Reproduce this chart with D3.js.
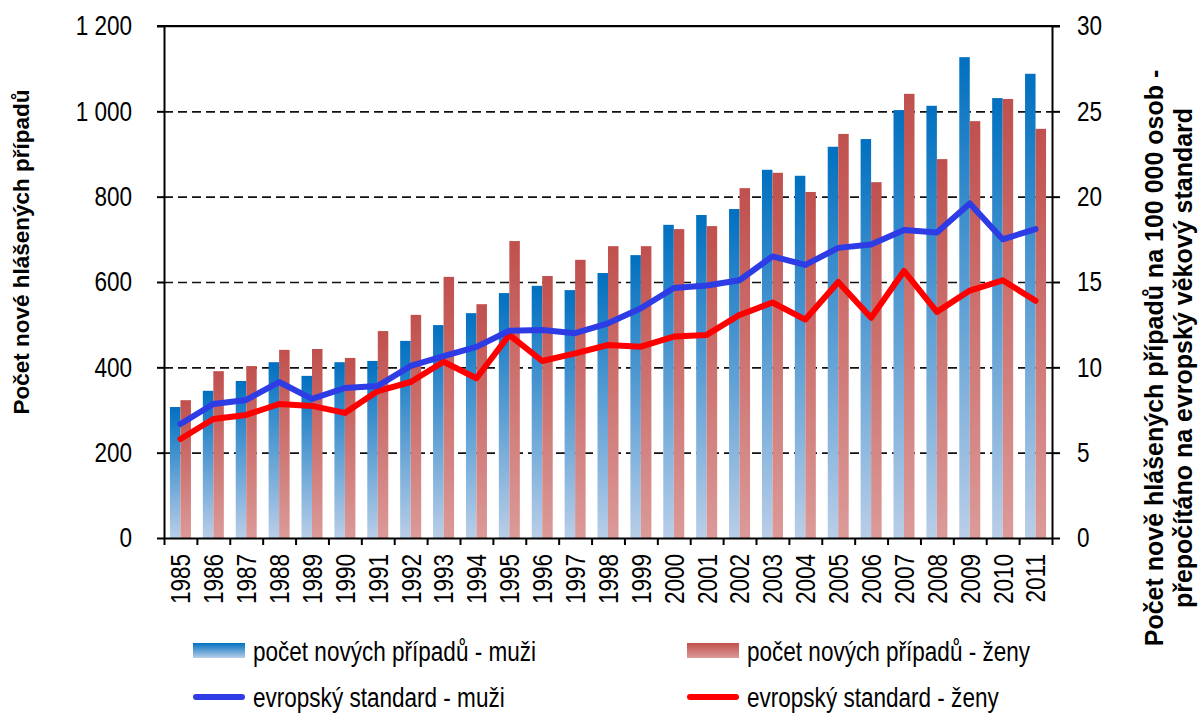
<!DOCTYPE html>
<html>
<head>
<meta charset="utf-8">
<script src="https://cdn.jsdelivr.net/npm/d3@7"></script>
<style>
body { margin: 0; background: #fff; }
svg text { font-family: 'Liberation Sans', Arial, sans-serif; font-size: 27.5px; fill: #000; }
svg text.title { font-weight: bold; font-size: 22.5px; }
svg text.rtitle { font-size: 25px; }
</style>
</head>
<body>
<svg id="chart" width="1201" height="713"></svg>
<script>
const years = ['1985', '1986', '1987', '1988', '1989', '1990', '1991', '1992', '1993', '1994',
    '1995', '1996', '1997', '1998', '1999', '2000', '2001', '2002', '2003', '2004',
    '2005', '2006', '2007', '2008', '2009', '2010', '2011'];

// pocet novych pripadu (left axis)
const casesMen = [307, 345, 368, 412, 380, 412, 415, 462, 499, 527, 574, 591, 581, 621, 663,
    734, 757, 771, 863, 849, 917, 935, 1003, 1013, 1127, 1031, 1088];
const casesWomen = [323, 391, 403, 441, 443, 422, 485, 523, 612, 548, 696, 614, 652, 684, 684,
    724, 731, 820, 856, 811, 947, 834, 1041, 888, 977, 1029, 959];

// evropsky standard (right axis)
const rateMen = [6.68, 7.85, 8.09, 9.14, 8.15, 8.79, 8.91, 10.08, 10.66, 11.2, 12.15, 12.19, 12.0,
    12.58, 13.46, 14.65, 14.8, 15.1, 16.5, 16.0, 17.0, 17.2, 18.05, 17.9, 19.6, 17.5, 18.1];
const rateWomen = [5.8, 6.97, 7.21, 7.85, 7.74, 7.33, 8.61, 9.14, 10.33, 9.36, 11.9, 10.37, 10.82,
    11.31, 11.21, 11.8, 11.9, 13.07, 13.8, 12.8, 15.0, 12.9, 15.65, 13.25, 14.5, 15.1, 13.9];

const leftTicks = [0, 200, 400, 600, 800, 1000, 1200];
const rightTicks = [0, 5, 10, 15, 20, 25, 30];

const legendLabels = ['počet nových případů - muži', 'počet nových případů - ženy',
    'evropský standard - muži', 'evropský standard - ženy'];

const leftTitle = 'Počet nové hlášených případů';
const rightTitle = ['Počet nově hlášených případů na 100 000 osob -',
    'přepočítáno na evropský věkový standard'];

const plot = { left: 164, right: 1052, top: 26, bottom: 538 };
const lineColors = ['#2e3ce6', '#ff0000'];
const narrow = 0.82; // reference uses a narrow face, squeeze regular one

const svg = d3.select('#chart');
const czech = d3.formatLocale({ decimal: ',', thousands: ' ', grouping: [3], currency: ['', ''] });
const fmt = czech.format(',');

const x = d3.scaleBand().domain(years).range([plot.left, plot.right]);
const bw = x.bandwidth();
const xSub = d3.scaleBand().domain(['m', 'z']).range([bw / 2 - 10.5, bw / 2 + 10.5]);
const xEdge = d3.scaleLinear().domain([0, years.length]).range([plot.left, plot.right]);
const yLeft = d3.scaleLinear().domain([0, 1200]).range([plot.bottom, plot.top]);
const yRight = d3.scaleLinear().domain([0, 30]).range([plot.bottom, plot.top]);

// gradients
const defs = svg.append('defs');
const addGradient = (id, from, to) => {
    const g = defs.append('linearGradient').attr('id', id)
        .attr('x1', 0).attr('y1', 0).attr('x2', 0).attr('y2', 1);
    g.append('stop').attr('offset', 0).attr('stop-color', from);
    g.append('stop').attr('offset', 1).attr('stop-color', to);
};
addGradient('gBlue', '#0070c0', '#b9cee8');
addGradient('gRed', '#c0504d', '#db9a98');

// grid
svg.append('g')
    .attr('transform', `translate(${plot.left},0)`)
    .call(d3.axisLeft(yLeft).tickValues(leftTicks.slice(1)).tickSize(-(plot.right - plot.left)).tickFormat(''))
    .call(g => g.select('.domain').remove())
    .call(g => g.selectAll('line')
        .attr('stroke', '#111')
        .attr('stroke-width', 1.6)
        .attr('stroke-dasharray', d => d === 1200 ? null : '9,5'));

// bars
const bars = svg.append('g');
years.forEach((yr, i) => {
    bars.append('rect')
        .attr('x', x(yr) + xSub('m'))
        .attr('width', xSub.bandwidth())
        .attr('y', yLeft(casesMen[i]))
        .attr('height', yLeft(0) - yLeft(casesMen[i]))
        .attr('fill', 'url(#gBlue)');
    bars.append('rect')
        .attr('x', x(yr) + xSub('z'))
        .attr('width', xSub.bandwidth())
        .attr('y', yLeft(casesWomen[i]))
        .attr('height', yLeft(0) - yLeft(casesWomen[i]))
        .attr('fill', 'url(#gRed)');
});

// lines
const line = d3.line()
    .x((d, i) => x(years[i]) + bw / 2)
    .y(d => yRight(d));
[rateWomen, rateMen].forEach((series, k) => {
    svg.append('path')
        .datum(series)
        .attr('d', line)
        .attr('fill', 'none')
        .attr('stroke', lineColors[1 - k])
        .attr('stroke-width', 6)
        .attr('stroke-linejoin', 'round')
        .attr('stroke-linecap', 'round');
});

// axes
const styleAxis = g => {
    g.select('.domain').attr('stroke', '#000').attr('stroke-width', 2);
    g.selectAll('.tick line').attr('stroke', '#000').attr('stroke-width', 2);
    g.selectAll('text')
        .attr('font-size', null).attr('font-family', null)
        .attr('transform', `scale(${narrow},1)`)
        .attr('x', function () { return +this.getAttribute('x') / narrow; });
};

svg.append('g')
    .attr('transform', `translate(${plot.left},0)`)
    .call(d3.axisLeft(yLeft).tickValues(leftTicks).tickSize(7).tickSizeOuter(0).tickPadding(25).tickFormat(fmt))
    .call(styleAxis);

svg.append('g')
    .attr('transform', `translate(${plot.right},0)`)
    .call(d3.axisRight(yRight).tickValues(rightTicks).tickSize(8).tickSizeOuter(0).tickPadding(17))
    .call(styleAxis);

svg.append('g')
    .attr('transform', `translate(0,${plot.bottom})`)
    .call(d3.axisBottom(xEdge).ticks(years.length).tickSize(7).tickSizeOuter(0).tickFormat(''))
    .call(styleAxis);

svg.append('g')
    .attr('transform', `translate(0,${plot.bottom})`)
    .call(d3.axisBottom(x).tickSize(0))
    .call(g => g.select('.domain').remove())
    .call(g => g.selectAll('text')
        .attr('font-size', null).attr('font-family', null)
        .attr('transform', `rotate(-90) scale(${narrow},1)`)
        .attr('text-anchor', 'end')
        .attr('x', -16 / narrow)
        .attr('y', 0)
        .attr('dy', '0.36em'));

// top border
svg.append('line')
    .attr('x1', plot.left - 7).attr('x2', plot.right + 8)
    .attr('y1', plot.top).attr('y2', plot.top)
    .attr('stroke', '#000').attr('stroke-width', 2);

// axis titles
svg.append('text')
    .attr('class', 'title')
    .attr('transform', 'translate(29,252) rotate(-90)')
    .attr('text-anchor', 'middle')
    .text(leftTitle);

svg.selectAll('.rtitle')
    .data(rightTitle)
    .join('text')
    .attr('class', 'title rtitle')
    .attr('transform', (d, i) => `translate(${1163 + i * 29},358) rotate(-90)`)
    .attr('text-anchor', 'middle')
    .text(d => d);

// legend
const legendPos = [[193, 651], [687, 651], [193, 697], [687, 697]];
const legend = svg.append('g');
legendLabels.forEach((label, i) => {
    const [lx, ly] = legendPos[i];
    if (i < 2) {
        legend.append('rect')
            .attr('x', lx).attr('y', ly - 8)
            .attr('width', 52).attr('height', 15)
            .attr('fill', i === 0 ? 'url(#gBlue)' : 'url(#gRed)');
    } else {
        legend.append('line')
            .attr('x1', lx + 3).attr('x2', lx + 49)
            .attr('y1', ly).attr('y2', ly)
            .attr('stroke', lineColors[i - 2])
            .attr('stroke-width', 6)
            .attr('stroke-linecap', 'round');
    }
    legend.append('text')
        .attr('transform', `translate(${lx + 60},${ly}) scale(${narrow},1)`)
        .attr('dy', '0.35em')
        .text(label);
});
</script>
</body>
</html>
